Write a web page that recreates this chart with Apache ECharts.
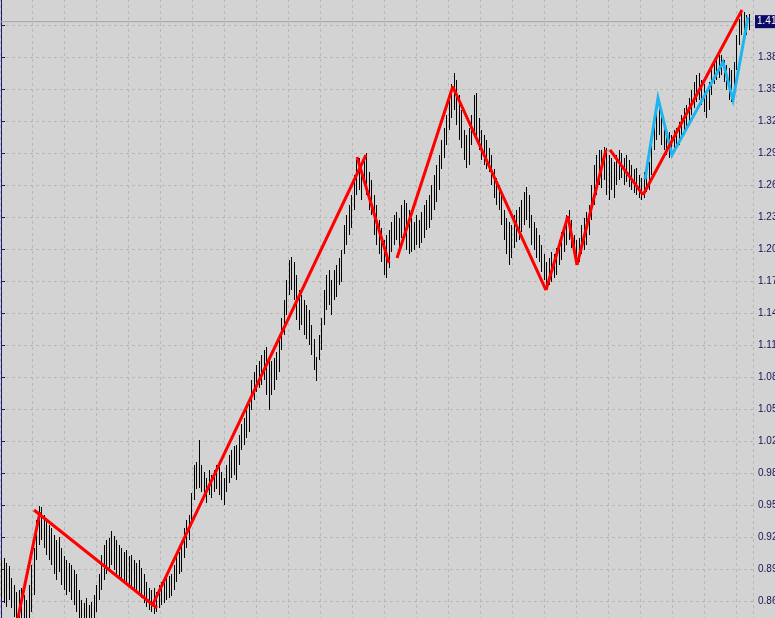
<!DOCTYPE html>
<html><head><meta charset="utf-8">
<script src="https://cdn.jsdelivr.net/npm/echarts@6/dist/echarts.min.js"></script>
<style>html,body{margin:0;padding:0;background:#d3d3d3;}#chart{width:775px;height:618px;}</style>
</head><body><div id="chart"></div>
<script>
// Bar highs (one per bar, left to right)
const highs = [
0.907,0.909,0.904,0.901,0.890,0.883,0.876,0.878,0.880,0.873,
0.869,0.883,0.902,0.918,0.945,0.958,0.957,0.950,0.945,0.940,
0.937,0.931,0.926,0.929,0.918,0.911,0.907,0.904,0.902,0.897,
0.893,0.878,0.869,0.866,0.871,0.864,0.867,0.873,0.883,0.893,
0.912,0.921,0.926,0.928,0.934,0.930,0.926,0.921,0.918,0.914,
0.916,0.911,0.912,0.907,0.904,0.907,0.899,0.893,0.886,0.880,
0.878,0.880,0.876,0.883,0.886,0.888,0.890,0.892,0.893,0.902,
0.911,0.914,0.921,0.937,0.945,0.950,0.971,0.997,1.000,1.021,
0.997,0.991,0.985,0.993,0.988,0.993,0.997,0.995,0.991,0.985,
0.997,1.007,1.012,1.015,1.016,1.026,1.036,1.042,1.050,1.055,
1.078,1.086,1.093,1.096,1.102,1.107,1.110,1.097,1.096,1.099,
1.105,1.117,1.137,1.155,1.174,1.193,1.196,1.191,1.178,1.164,
1.159,1.155,1.150,1.145,1.131,1.117,1.100,1.121,1.137,1.164,
1.178,1.183,1.174,1.183,1.188,1.195,1.202,1.226,1.236,1.245,
1.255,1.274,1.288,1.290,1.283,1.293,1.295,1.277,1.269,1.255,
1.245,1.231,1.223,1.212,1.217,1.221,1.229,1.236,1.238,1.233,
1.245,1.250,1.247,1.240,1.233,1.229,1.236,1.231,1.238,1.245,
1.250,1.255,1.264,1.274,1.283,1.293,1.307,1.319,1.331,1.345,
1.360,1.371,1.364,1.350,1.336,1.317,1.312,1.319,1.331,1.350,
1.352,1.328,1.317,1.312,1.307,1.299,1.293,1.279,1.271,1.264,
1.255,1.240,1.233,1.229,1.226,1.236,1.240,1.243,1.250,1.258,
1.262,1.255,1.236,1.229,1.223,1.217,1.207,1.198,1.191,1.195,
1.200,1.198,1.204,1.212,1.219,1.226,1.236,1.240,1.231,1.217,
1.212,1.214,1.226,1.233,1.238,1.245,1.264,1.283,1.293,1.298,
1.298,1.300,1.299,1.293,1.290,1.286,1.293,1.298,1.295,1.290,
1.293,1.288,1.283,1.279,1.280,1.274,1.271,1.277,1.283,1.286,
1.307,1.328,1.340,1.345,1.331,1.324,1.319,1.315,1.312,1.317,
1.319,1.324,1.331,1.338,1.340,1.347,1.355,1.362,1.369,1.371,
1.364,1.360,1.355,1.362,1.374,1.381,1.385,1.388,1.388,1.383,
1.379,1.376,1.374,1.381,1.407,1.422,1.431,1.429,1.426,1.427
];
// Bar lows
const lows = [
0.871,0.866,0.862,0.869,0.861,0.852,0.838,0.845,0.845,0.842,
0.840,0.850,0.857,0.873,0.907,0.921,0.926,0.918,0.912,0.907,
0.902,0.893,0.888,0.895,0.883,0.878,0.873,0.876,0.869,0.864,
0.857,0.848,0.845,0.842,0.844,0.840,0.845,0.848,0.857,0.869,
0.878,0.888,0.893,0.895,0.902,0.897,0.893,0.890,0.888,0.885,
0.883,0.880,0.881,0.878,0.876,0.873,0.871,0.866,0.862,0.859,
0.857,0.855,0.857,0.861,0.864,0.866,0.869,0.871,0.872,0.878,
0.886,0.893,0.895,0.909,0.918,0.926,0.940,0.964,0.974,0.975,
0.972,0.967,0.961,0.969,0.966,0.972,0.974,0.969,0.964,0.959,
0.972,0.980,0.985,0.988,0.983,0.997,1.012,1.016,1.023,1.029,
1.050,1.059,1.067,1.071,1.074,1.078,1.064,1.050,1.064,1.069,
1.078,1.086,1.107,1.121,1.140,1.159,1.164,1.155,1.136,1.126,
1.131,1.121,1.117,1.112,1.102,1.088,1.077,1.097,1.107,1.131,
1.145,1.150,1.140,1.155,1.157,1.169,1.172,1.198,1.207,1.217,
1.223,1.240,1.255,1.259,1.250,1.264,1.255,1.240,1.236,1.217,
1.207,1.198,1.191,1.178,1.176,1.185,1.200,1.207,1.212,1.204,
1.214,1.218,1.202,1.198,1.200,1.202,1.207,1.204,1.209,1.214,
1.221,1.223,1.231,1.240,1.248,1.259,1.279,1.290,1.302,1.317,
1.328,1.336,1.321,1.307,1.299,1.288,1.280,1.283,1.302,1.312,
1.307,1.298,1.288,1.283,1.279,1.277,1.264,1.252,1.245,1.240,
1.226,1.212,1.198,1.188,1.195,1.204,1.210,1.212,1.219,1.226,
1.231,1.223,1.207,1.202,1.195,1.191,1.181,1.174,1.164,1.169,
1.172,1.176,1.178,1.188,1.193,1.200,1.207,1.212,1.204,1.195,
1.188,1.191,1.198,1.202,1.207,1.217,1.231,1.245,1.255,1.264,
1.261,1.269,1.255,1.250,1.259,1.252,1.264,1.269,1.271,1.264,
1.267,1.262,1.259,1.257,1.255,1.252,1.250,1.252,1.258,1.259,
1.274,1.298,1.307,1.312,1.302,1.298,1.293,1.290,1.291,1.296,
1.299,1.302,1.307,1.312,1.317,1.321,1.331,1.338,1.343,1.345,
1.340,1.334,1.328,1.336,1.350,1.360,1.364,1.366,1.369,1.362,
1.355,1.345,1.343,1.347,1.374,1.398,1.407,1.410,1.407,1.412
];
// Red zigzag segments: [barFrom, priceFrom, barTo, priceTo]
const redSegments = [
[5.6,0.8382,15.6,0.9525],
[13.2,0.9544,62.4,0.8610],
[60.4,0.8629,146.0,1.2928],
[142.4,1.2909,155.2,1.1899],
[158.4,1.1946,180.8,1.3586],
[180.8,1.3576,218.0,1.1641],
[218.0,1.1641,226.8,1.2347],
[226.8,1.2347,230.4,1.1880],
[230.4,1.1880,242.0,1.2976],
[243.6,1.2976,256.8,1.2547],
[256.8,1.2547,296.4,1.4310]
];
// Blue zigzag points: [bar, price]
const cyanPath = [
[257.6,1.2694],[262.8,1.3471],[268.4,1.2928],[288.8,1.3814],[292.8,1.3452],[298.8,1.4243]
];
const bidPrice = 1.4199;
const priceAxis = {min: 0.8372, max: 1.4472, step: 0.0305};
const barAxis = {min: -0.4, max: 300.8, step: 12.8};

function trunc2(v) { return (Math.floor(v * 100 + 1e-6) / 100).toFixed(2); }

const chart = echarts.init(document.getElementById('chart'), null, {renderer: 'canvas'});
const gridLine = {show: true, lineStyle: {color: '#b7b7b7', width: 1, type: [3, 3]}};
const labelFont = "'Liberation Sans', Arial, sans-serif";

chart.setOption({
  backgroundColor: '#d3d3d3',
  animation: false,
  grid: {left: 0, right: 22, top: -7, bottom: -15, containLabel: false, outerBoundsMode: 'none'},
  xAxis: {
    type: 'value', min: barAxis.min, max: barAxis.max, interval: barAxis.step,
    axisLine: {show: false}, axisTick: {show: false}, axisLabel: {show: false},
    splitLine: gridLine
  },
  yAxis: {
    type: 'value', position: 'right', min: priceAxis.min, max: priceAxis.max, interval: priceAxis.step,
    axisLine: {show: true, lineStyle: {color: '#1b1b78', width: 1}},
    axisTick: {show: true, length: 4, lineStyle: {color: '#1b1b78'}},
    axisLabel: {margin: 5, color: '#141458', fontSize: 10, fontFamily: labelFont, formatter: trunc2},
    splitLine: gridLine
  },
  series: [
    {
      type: 'line', data: [[barAxis.min, bidPrice], [barAxis.max, bidPrice]],
      symbol: 'none', silent: true, z: 2,
      lineStyle: {color: '#a4a4a4', width: 1},
      endLabel: {show: true, formatter: () => trunc2(bidPrice), color: '#ffffff', backgroundColor: '#0b0b66',
        padding: [2, 3, 1, 2], fontSize: 10, fontFamily: labelFont, distance: 2}
    },
    {
      type: 'custom', silent: true, z: 3,
      data: highs.map((h, i) => [i, h, lows[i]]),
      encode: {x: 0, y: [1, 2]},
      renderItem: function (params, api) {
        const i = api.value(0);
        const top = api.coord([i, api.value(1)]);
        const bot = api.coord([i, api.value(2)]);
        const x = Math.round(top[0]) + 0.5;
        return {type: 'line', shape: {x1: x, y1: Math.round(top[1]), x2: x, y2: Math.round(bot[1])},
          style: {stroke: '#000000', lineWidth: 1}};
      }
    },
    {
      type: 'lines', coordinateSystem: 'cartesian2d', polyline: true, silent: true, z: 4,
      data: [{coords: cyanPath}],
      lineStyle: {color: '#1eb4f0', width: 3, opacity: 1, curveness: 0}
    },
    {
      type: 'lines', coordinateSystem: 'cartesian2d', silent: true, z: 5,
      data: redSegments.map(s => ({coords: [[s[0], s[1]], [s[2], s[3]]]})),
      lineStyle: {color: '#ff0000', width: 3, opacity: 1, curveness: 0}
    }
  ]
});
</script></body></html>
